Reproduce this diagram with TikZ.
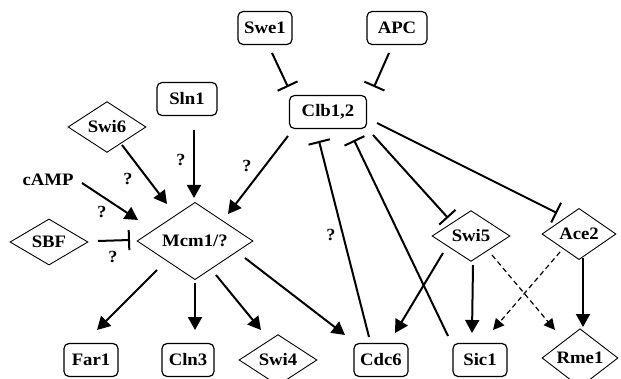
\documentclass[tikz,border=0pt]{standalone}
\usepackage{fontspec}
\setmainfont{Liberation Serif}[FakeStretch=1.07]
\usetikzlibrary{shapes.geometric,arrows.meta,calc}
\begin{document}
\begin{tikzpicture}[x=1pt,y=-1pt,
  every node/.style={font=\fontsize{17.5}{20}\selectfont\bfseries},
  gbox/.style={draw,rounded corners=5pt,line width=1.2pt,inner sep=0pt,minimum height=33pt},
  gdia/.style={draw,diamond,line width=0.9pt,inner sep=0pt,minimum width=78pt,minimum height=39pt},
  qlab/.style={font=\fontsize{17}{18}\selectfont\bfseries,inner sep=0pt},
  act/.style={line width=2pt,-{Triangle[length=13pt,width=14pt]}},
  inh/.style={line width=2pt,-{Bar[width=22pt,line width=2pt]}},
  dact/.style={line width=1.2pt,dash pattern=on 5pt off 3.5pt,-{Triangle[length=11pt,width=11pt]}}
]
\useasboundingbox (0,0) rectangle (621,379);
% nodes
\node[gbox,minimum width=54pt] (swe1) at (265,28) {Swe1};
\node[gbox,minimum width=60pt] (apc) at (397,28) {APC};
\node[gbox,minimum width=60pt] (sln1) at (187,99) {Sln1};
\node[gbox,minimum width=77pt] (clb) at (328,112) {Clb1,2};
\node[gdia] (swi6) at (107,127) {Swi6};
\node[inner sep=0pt] (camp) at (48,180) {cAMP};
\node[gdia] (sbf) at (49,242) {SBF};
\node[gdia,minimum width=116pt,minimum height=59pt] (mcm) at (195,241) {Mcm1/?};
\node[gbox,minimum width=54pt] (far1) at (91,360) {Far1};
\node[gbox,minimum width=52pt] (cln3) at (188,360) {Cln3};
\node[gdia] (swi4) at (278,360) {Swi4};
\node[gbox,minimum width=54pt] (cdc6) at (381,360) {Cdc6};
\node[gbox,minimum width=54pt] (sic1) at (480,360) {Sic1};
\node[gdia,minimum width=76pt,minimum height=40pt] (rme1) at (580,358) {Rme1};
\node[gdia] (swi5) at (471,236) {Swi5};
\node[gdia,minimum width=74pt,minimum height=37pt] (ace2) at (579,234) {Ace2};
% connectors
\draw[inh] ($(swe1)+(7,25)$) -- ($(clb)+(-40,-25)$);
\draw[inh] ($(apc)+(-8,25)$) -- ($(clb)+(46,-25)$);
\draw[act] ($(sln1)+(7,31)$) -- ($(mcm)+(-1,-43)$);
\draw[act] ($(swi6)+(15,18)$) -- ($(mcm)+(-28,-37)$);
\draw[act] ($(camp)+(34,3)$) -- ($(mcm)+(-57,-21)$);
\draw[inh,-{Bar[width=20pt,line width=2pt]}] ($(sbf)+(49,-1)$) -- ($(mcm)+(-65,-1)$);
\draw[act] ($(clb)+(-40,24)$) -- ($(mcm)+(33,-27)$);
\draw[act] ($(mcm)+(-38,29)$) -- ($(far1)+(6,-30)$);
\draw[act] ($(mcm)+(0,42)$) -- ($(cln3)+(7,-30)$);
\draw[act] ($(mcm)+(21,34)$) -- ($(swi4)+(-17,-30)$);
\draw[act] ($(mcm)+(50,17)$) -- ($(cdc6)+(-36,-25)$);
\draw[inh] ($(cdc6)+(-12,-23)$) -- ($(clb)+(-9,29)$);
\draw[inh] ($(sic1)+(-32,-24)$) -- ($(clb)+(26,28)$);
\draw[inh] ($(clb)+(45,23)$) -- ($(swi5)+(-23,-18)$);
\draw[inh] ($(clb)+(49,11)$) -- ($(ace2)+(-22,-21)$);
\draw[act] ($(swi5)+(-28,17)$) -- ($(cdc6)+(14,-27)$);
\draw[act] ($(swi5)+(2,29)$) -- ($(sic1)+(-8,-27)$);
\draw[dact] ($(swi5)+(21,19)$) -- ($(rme1)+(-25,-28)$);
\draw[dact] ($(ace2)+(-19,18)$) -- ($(sic1)+(13,-30)$);
\draw[act] ($(ace2)+(4,24)$) -- ($(rme1)+(3,-31)$);
% labels
\node[qlab] (q1) at (181,160) {?};
\node[qlab] (q2) at (128,179) {?};
\node[qlab] (q3) at (247,166) {?};
\node[qlab] (q4) at (102,212) {?};
\node[qlab] (q5) at (113,257) {?};
\node[qlab] (q6) at (331,235) {?};
\end{tikzpicture}
\end{document}
